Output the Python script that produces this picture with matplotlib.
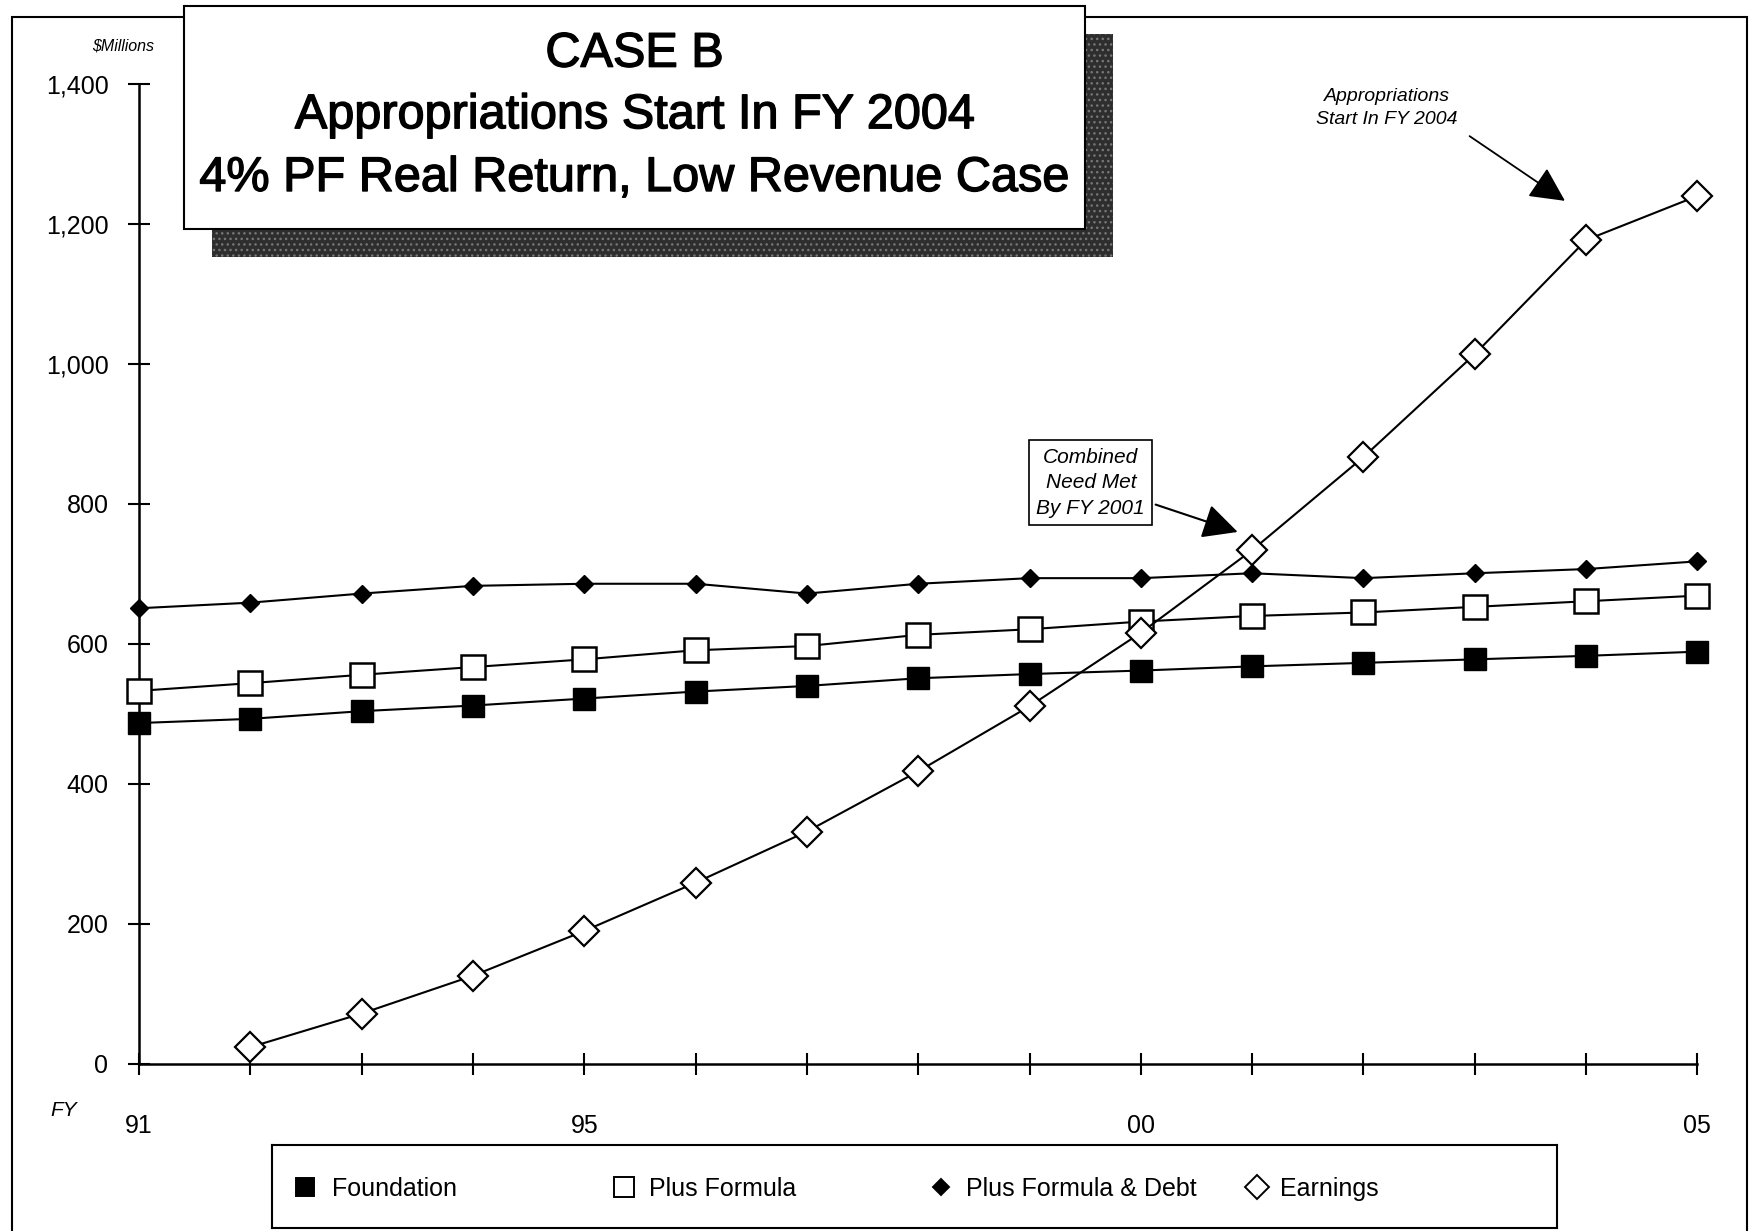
import matplotlib.pyplot as plt
import matplotlib.patheffects as pe
from matplotlib.patches import Rectangle
from matplotlib.ticker import FuncFormatter

plt.rcParams['font.family'] = ['Liberation Sans', 'DejaVu Sans']

# Data ($ millions)
years = [1991, 1992, 1993, 1994, 1995, 1996, 1997, 1998, 1999, 2000,
         2001, 2002, 2003, 2004, 2005]
foundation = [487, 493, 504, 512, 522, 532, 540, 551, 557, 562,
              568, 573, 578, 583, 589]
plus_formula = [533, 544, 556, 567, 578, 591, 597, 613, 621, 632,
                640, 645, 653, 661, 669]
plus_formula_debt = [651, 659, 672, 683, 686, 686, 672, 686, 694, 694,
                     701, 694, 701, 707, 718]
earnings_years = years[1:]
earnings = [24, 72, 126, 190, 259, 332, 418, 511, 616, 734,
            867, 1014, 1177, 1240]

yticks = [0, 200, 400, 600, 800, 1000, 1200, 1400]
xtick_labels = {1991: '91', 1995: '95', 2000: '00', 2005: '05'}

fig = plt.figure(figsize=(17.53, 12.31), dpi=100)
fig.patch.set_facecolor('white')

# outer frame of the page
fig.patches.append(Rectangle((0.0068, -0.01), 0.990, 0.996, transform=fig.transFigure,
                             fill=False, ec='black', lw=1.5, zorder=0))

ax = fig.add_axes([0.0793, 0.1357, 0.889, 0.7961])
ax.set_facecolor('none')

lw = 1.5
ax.plot(years, foundation, color='black', lw=lw, marker='s', ms=16,
        mfc='black', mec='black', clip_on=False, zorder=3)
ax.plot(years, plus_formula, color='black', lw=lw, marker='s', ms=17,
        mfc='white', mec='black', mew=1.8, clip_on=False, zorder=3)
ax.plot(years, plus_formula_debt, color='black', lw=lw, marker='D', ms=9.5,
        mfc='black', mec='black', clip_on=False, zorder=3)
ax.plot(earnings_years, earnings, color='black', lw=lw, marker='D', ms=15,
        mfc='white', mec='black', mew=1.6, clip_on=False, zorder=4)

ax.set_xlim(years[0], years[-1])
ax.set_ylim(0, 1400)
for side in ['top', 'right']:
    ax.spines[side].set_visible(False)
for side in ['left', 'bottom']:
    ax.spines[side].set_linewidth(1.8)

ax.set_yticks(yticks)
ax.yaxis.set_major_formatter(FuncFormatter(lambda v, p: f'{int(v):,}'))
ax.set_xticks(years)
ax.set_xticklabels([xtick_labels.get(y, '') for y in years])
ax.tick_params(axis='both', direction='inout', length=16, width=1.5, labelsize=18)
ax.tick_params(axis='y', pad=14)
ax.tick_params(axis='x', pad=28)

fig.text(0.088, 0.963, '$Millions', fontsize=11.5, style='italic', ha='right', va='center')
fig.text(0.0365, 0.098, 'FY', fontsize=15, style='italic', ha='center', va='center')

# title box with dark shadow
fig.patches.append(Rectangle((0.121, 0.791), 0.514, 0.181, transform=fig.transFigure,
                             fc='#2e2e2e', ec='#777777', lw=0, hatch='...', zorder=5))
fig.patches.append(Rectangle((0.105, 0.814), 0.514, 0.181, transform=fig.transFigure,
                             fc='white', ec='black', lw=1.5, zorder=6))
title_lines = ['CASE B', 'Appropriations Start In FY 2004',
               '4% PF Real Return, Low Revenue Case']
heavy = [pe.withStroke(linewidth=1.0, foreground='black')]
for line, ty in zip(title_lines, [0.956, 0.906, 0.855]):
    fig.text(0.362, ty, line, fontsize=35, ha='center', va='center', zorder=7,
             path_effects=heavy)

# call-outs
ax.annotate('Combined\nNeed Met\nBy FY 2001', xy=(2000.87, 760), xytext=(1999.55, 830),
            fontsize=15, style='italic', ha='center', va='center', linespacing=1.45,
            bbox=dict(boxstyle='square,pad=0.35', fc='white', ec='black', lw=1.2),
            arrowprops=dict(arrowstyle='-|>,head_length=1.2,head_width=0.6',
                            mutation_scale=18, color='black', lw=1.5, shrinkB=0))
ax.annotate('Appropriations\nStart In FY 2004', xy=(2003.81, 1233), xytext=(2002.21, 1366),
            fontsize=14, style='italic', ha='center', va='center', linespacing=1.5,
            annotation_clip=False,
            arrowprops=dict(arrowstyle='-|>,head_length=1.2,head_width=0.6',
                            mutation_scale=18, color='black', lw=1.3, shrinkB=0,
                            shrinkA=8, relpos=(1.0, 0.0)))

# legend strip
lax = fig.add_axes([0.155, 0.0024, 0.733, 0.0674])
lax.set_xlim(0, 1)
lax.set_ylim(0, 1)
lax.set_xticks([])
lax.set_yticks([])
for sp in lax.spines.values():
    sp.set_linewidth(1.5)
legend_items = [('Foundation', 's', 13, 'black'),
                ('Plus Formula', 's', 15, 'white'),
                ('Plus Formula & Debt', 'D', 8, 'black'),
                ('Earnings', 'D', 12, 'white')]
marker_x = [0.0257, 0.274, 0.521, 0.767]
text_x = [0.0467, 0.294, 0.540, 0.785]
for (label, mk, ms, fc), mx, tx in zip(legend_items, marker_x, text_x):
    lax.plot([mx], [0.5], marker=mk, ms=ms, mfc=fc, mec='black', mew=1.4, ls='none')
    lax.text(tx, 0.47, label, fontsize=18, ha='left', va='center')

fig.savefig('out.png', dpi=100, facecolor='white')
